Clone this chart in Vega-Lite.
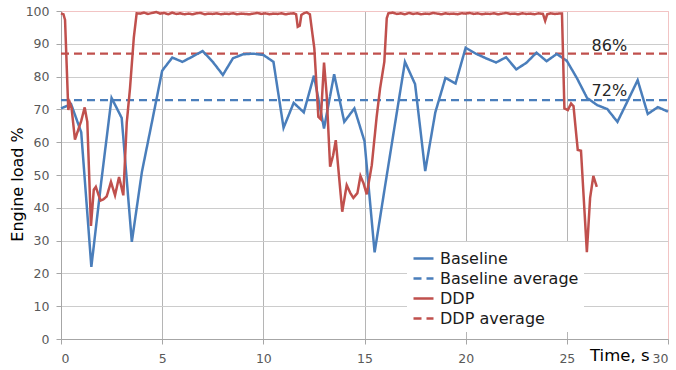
{
  "$schema": "https://vega.github.io/schema/vega-lite/v6.json",
  "width": 607,
  "height": 328,
  "autosize": "none",
  "padding": {"left": 61, "top": 11, "right": 8, "bottom": 31},
  "background": "white",
  "config": {
    "view": {"stroke": "#f2c4c4", "strokeWidth": 1},
    "font": "DejaVu Sans",
    "axis": {
      "gridWidth": 1,
      "domainColor": "#a6a6a6",
      "tickColor": "#a6a6a6",
      "tickSize": 5,
      "labelFont": "DejaVu Sans",
      "labelFontSize": 12.5,
      "labelColor": "#595959",
      "labelOverlap": false,
      "titleFont": "DejaVu Sans",
      "titleFontWeight": "normal",
      "titleColor": "#000000"
    }
  },
  "datasets": {
    "avg": [
      {"t": 0, "v": 72.8, "s": "Baseline average"},
      {"t": 30, "v": 72.8, "s": "Baseline average"},
      {"t": 0, "v": 87.0, "s": "DDP average"},
      {"t": 30, "v": 87.0, "s": "DDP average"}
    ],
    "main": [
      {"t": 0, "v": 70.3, "s": "Baseline"},
      {"t": 0.5, "v": 71.6, "s": "Baseline"},
      {"t": 1.0, "v": 63.0, "s": "Baseline"},
      {"t": 1.5, "v": 22.0, "s": "Baseline"},
      {"t": 2.0, "v": 48.5, "s": "Baseline"},
      {"t": 2.5, "v": 73.5, "s": "Baseline"},
      {"t": 3.0, "v": 67.4, "s": "Baseline"},
      {"t": 3.5, "v": 29.6, "s": "Baseline"},
      {"t": 4.0, "v": 51.0, "s": "Baseline"},
      {"t": 4.5, "v": 66.3, "s": "Baseline"},
      {"t": 5.0, "v": 81.8, "s": "Baseline"},
      {"t": 5.5, "v": 85.8, "s": "Baseline"},
      {"t": 6.0, "v": 84.5, "s": "Baseline"},
      {"t": 6.5, "v": 86.1, "s": "Baseline"},
      {"t": 7.0, "v": 87.8, "s": "Baseline"},
      {"t": 7.5, "v": 84.5, "s": "Baseline"},
      {"t": 8.0, "v": 80.5, "s": "Baseline"},
      {"t": 8.5, "v": 85.6, "s": "Baseline"},
      {"t": 9.0, "v": 86.8, "s": "Baseline"},
      {"t": 9.5, "v": 87.0, "s": "Baseline"},
      {"t": 10.0, "v": 86.6, "s": "Baseline"},
      {"t": 10.5, "v": 84.5, "s": "Baseline"},
      {"t": 11.0, "v": 64.4, "s": "Baseline"},
      {"t": 11.5, "v": 72.0, "s": "Baseline"},
      {"t": 12.0, "v": 69.1, "s": "Baseline"},
      {"t": 12.5, "v": 80.3, "s": "Baseline"},
      {"t": 13.0, "v": 64.2, "s": "Baseline"},
      {"t": 13.5, "v": 80.7, "s": "Baseline"},
      {"t": 14.0, "v": 66.2, "s": "Baseline"},
      {"t": 14.5, "v": 70.3, "s": "Baseline"},
      {"t": 15.0, "v": 60.3, "s": "Baseline"},
      {"t": 15.5, "v": 26.4, "s": "Baseline"},
      {"t": 16.0, "v": 46.0, "s": "Baseline"},
      {"t": 16.5, "v": 65.3, "s": "Baseline"},
      {"t": 17.0, "v": 84.5, "s": "Baseline"},
      {"t": 17.5, "v": 77.7, "s": "Baseline"},
      {"t": 18.0, "v": 51.2, "s": "Baseline"},
      {"t": 18.5, "v": 69.1, "s": "Baseline"},
      {"t": 19.0, "v": 79.6, "s": "Baseline"},
      {"t": 19.5, "v": 77.9, "s": "Baseline"},
      {"t": 20.0, "v": 88.8, "s": "Baseline"},
      {"t": 20.5, "v": 87.0, "s": "Baseline"},
      {"t": 21.0, "v": 85.6, "s": "Baseline"},
      {"t": 21.5, "v": 84.3, "s": "Baseline"},
      {"t": 22.0, "v": 85.9, "s": "Baseline"},
      {"t": 22.5, "v": 82.2, "s": "Baseline"},
      {"t": 23.0, "v": 84.2, "s": "Baseline"},
      {"t": 23.5, "v": 87.3, "s": "Baseline"},
      {"t": 24.0, "v": 84.7, "s": "Baseline"},
      {"t": 24.5, "v": 86.9, "s": "Baseline"},
      {"t": 25.0, "v": 84.8, "s": "Baseline"},
      {"t": 25.5, "v": 79.5, "s": "Baseline"},
      {"t": 26.0, "v": 73.5, "s": "Baseline"},
      {"t": 26.5, "v": 71.3, "s": "Baseline"},
      {"t": 27.0, "v": 70.1, "s": "Baseline"},
      {"t": 27.5, "v": 66.2, "s": "Baseline"},
      {"t": 28.0, "v": 72.5, "s": "Baseline"},
      {"t": 28.5, "v": 78.9, "s": "Baseline"},
      {"t": 29.0, "v": 68.6, "s": "Baseline"},
      {"t": 29.5, "v": 70.7, "s": "Baseline"},
      {"t": 30.0, "v": 69.3, "s": "Baseline"},

      {"t": 0, "v": 99.3, "s": "DDP"},
      {"t": 0.12, "v": 99.0, "s": "DDP"},
      {"t": 0.2, "v": 97.3, "s": "DDP"},
      {"t": 0.36, "v": 69.8, "s": "DDP"},
      {"t": 0.44, "v": 72.0, "s": "DDP"},
      {"t": 0.52, "v": 70.5, "s": "DDP"},
      {"t": 0.69, "v": 60.8, "s": "DDP"},
      {"t": 1.0, "v": 66.5, "s": "DDP"},
      {"t": 1.17, "v": 70.6, "s": "DDP"},
      {"t": 1.3, "v": 66.2, "s": "DDP"},
      {"t": 1.48, "v": 34.5, "s": "DDP"},
      {"t": 1.62, "v": 45.5, "s": "DDP"},
      {"t": 1.72, "v": 46.4, "s": "DDP"},
      {"t": 1.95, "v": 42.2, "s": "DDP"},
      {"t": 2.1, "v": 42.6, "s": "DDP"},
      {"t": 2.26, "v": 43.5, "s": "DDP"},
      {"t": 2.47, "v": 47.9, "s": "DDP"},
      {"t": 2.67, "v": 43.8, "s": "DDP"},
      {"t": 2.87, "v": 49.4, "s": "DDP"},
      {"t": 3.08, "v": 43.8, "s": "DDP"},
      {"t": 3.25, "v": 66.0, "s": "DDP"},
      {"t": 3.41, "v": 76.4, "s": "DDP"},
      {"t": 3.6, "v": 92.0, "s": "DDP"},
      {"t": 3.74, "v": 99.3, "s": "DDP"},
      {"t": 3.9, "v": 99.2, "s": "DDP"},
      {"t": 4.1, "v": 99.5, "s": "DDP"},
      {"t": 4.3, "v": 99.1, "s": "DDP"},
      {"t": 4.5, "v": 99.4, "s": "DDP"},
      {"t": 4.7, "v": 99.7, "s": "DDP"},
      {"t": 4.9, "v": 99.2, "s": "DDP"},
      {"t": 5.1, "v": 99.4, "s": "DDP"},
      {"t": 5.3, "v": 99.0, "s": "DDP"},
      {"t": 5.5, "v": 99.5, "s": "DDP"},
      {"t": 5.7, "v": 99.1, "s": "DDP"},
      {"t": 5.9, "v": 99.3, "s": "DDP"},
      {"t": 6.1, "v": 99.0, "s": "DDP"},
      {"t": 6.3, "v": 99.2, "s": "DDP"},
      {"t": 6.5, "v": 99.0, "s": "DDP"},
      {"t": 6.7, "v": 99.3, "s": "DDP"},
      {"t": 6.9, "v": 99.4, "s": "DDP"},
      {"t": 7.1, "v": 99.0, "s": "DDP"},
      {"t": 7.3, "v": 99.2, "s": "DDP"},
      {"t": 7.5, "v": 99.1, "s": "DDP"},
      {"t": 7.7, "v": 99.3, "s": "DDP"},
      {"t": 7.9, "v": 99.0, "s": "DDP"},
      {"t": 8.1, "v": 99.2, "s": "DDP"},
      {"t": 8.3, "v": 99.1, "s": "DDP"},
      {"t": 8.5, "v": 99.3, "s": "DDP"},
      {"t": 8.7, "v": 99.0, "s": "DDP"},
      {"t": 8.9, "v": 99.2, "s": "DDP"},
      {"t": 9.1, "v": 99.1, "s": "DDP"},
      {"t": 9.3, "v": 99.0, "s": "DDP"},
      {"t": 9.5, "v": 99.2, "s": "DDP"},
      {"t": 9.7, "v": 99.4, "s": "DDP"},
      {"t": 9.9, "v": 99.1, "s": "DDP"},
      {"t": 10.1, "v": 99.3, "s": "DDP"},
      {"t": 10.3, "v": 99.0, "s": "DDP"},
      {"t": 10.5, "v": 99.2, "s": "DDP"},
      {"t": 10.7, "v": 99.1, "s": "DDP"},
      {"t": 10.9, "v": 99.3, "s": "DDP"},
      {"t": 11.1, "v": 99.0, "s": "DDP"},
      {"t": 11.3, "v": 99.2, "s": "DDP"},
      {"t": 11.5, "v": 99.3, "s": "DDP"},
      {"t": 11.62, "v": 99.0, "s": "DDP"},
      {"t": 11.7, "v": 95.2, "s": "DDP"},
      {"t": 11.8, "v": 95.5, "s": "DDP"},
      {"t": 11.88, "v": 98.8, "s": "DDP"},
      {"t": 12.0, "v": 99.3, "s": "DDP"},
      {"t": 12.14, "v": 99.6, "s": "DDP"},
      {"t": 12.3, "v": 99.0, "s": "DDP"},
      {"t": 12.52, "v": 88.6, "s": "DDP"},
      {"t": 12.72, "v": 67.7, "s": "DDP"},
      {"t": 12.84, "v": 67.0, "s": "DDP"},
      {"t": 13.0, "v": 84.3, "s": "DDP"},
      {"t": 13.13, "v": 74.4, "s": "DDP"},
      {"t": 13.3, "v": 52.5, "s": "DDP"},
      {"t": 13.45, "v": 56.0, "s": "DDP"},
      {"t": 13.58, "v": 60.6, "s": "DDP"},
      {"t": 13.9, "v": 38.8, "s": "DDP"},
      {"t": 14.12, "v": 46.9, "s": "DDP"},
      {"t": 14.3, "v": 44.5, "s": "DDP"},
      {"t": 14.45, "v": 43.0, "s": "DDP"},
      {"t": 14.65, "v": 44.5, "s": "DDP"},
      {"t": 14.8, "v": 49.7, "s": "DDP"},
      {"t": 14.95, "v": 47.5, "s": "DDP"},
      {"t": 15.11, "v": 44.1, "s": "DDP"},
      {"t": 15.36, "v": 53.0, "s": "DDP"},
      {"t": 15.6, "v": 67.7, "s": "DDP"},
      {"t": 15.77, "v": 76.4, "s": "DDP"},
      {"t": 15.98, "v": 84.5, "s": "DDP"},
      {"t": 16.1, "v": 97.8, "s": "DDP"},
      {"t": 16.18, "v": 99.3, "s": "DDP"},
      {"t": 16.4, "v": 99.5, "s": "DDP"},
      {"t": 16.6, "v": 99.1, "s": "DDP"},
      {"t": 16.8, "v": 99.3, "s": "DDP"},
      {"t": 17.0, "v": 99.0, "s": "DDP"},
      {"t": 17.2, "v": 99.4, "s": "DDP"},
      {"t": 17.4, "v": 99.1, "s": "DDP"},
      {"t": 17.6, "v": 99.3, "s": "DDP"},
      {"t": 17.8, "v": 99.0, "s": "DDP"},
      {"t": 18.0, "v": 99.2, "s": "DDP"},
      {"t": 18.2, "v": 99.1, "s": "DDP"},
      {"t": 18.4, "v": 99.4, "s": "DDP"},
      {"t": 18.6, "v": 99.2, "s": "DDP"},
      {"t": 18.8, "v": 99.0, "s": "DDP"},
      {"t": 19.0, "v": 99.3, "s": "DDP"},
      {"t": 19.2, "v": 99.1, "s": "DDP"},
      {"t": 19.4, "v": 99.2, "s": "DDP"},
      {"t": 19.6, "v": 99.0, "s": "DDP"},
      {"t": 19.8, "v": 99.3, "s": "DDP"},
      {"t": 20.0, "v": 99.2, "s": "DDP"},
      {"t": 20.2, "v": 99.4, "s": "DDP"},
      {"t": 20.4, "v": 99.1, "s": "DDP"},
      {"t": 20.6, "v": 99.3, "s": "DDP"},
      {"t": 20.8, "v": 99.0, "s": "DDP"},
      {"t": 21.0, "v": 99.2, "s": "DDP"},
      {"t": 21.2, "v": 99.1, "s": "DDP"},
      {"t": 21.4, "v": 99.3, "s": "DDP"},
      {"t": 21.6, "v": 99.0, "s": "DDP"},
      {"t": 21.8, "v": 99.2, "s": "DDP"},
      {"t": 22.0, "v": 99.4, "s": "DDP"},
      {"t": 22.2, "v": 99.1, "s": "DDP"},
      {"t": 22.4, "v": 99.2, "s": "DDP"},
      {"t": 22.6, "v": 99.0, "s": "DDP"},
      {"t": 22.8, "v": 99.3, "s": "DDP"},
      {"t": 23.0, "v": 99.1, "s": "DDP"},
      {"t": 23.2, "v": 99.2, "s": "DDP"},
      {"t": 23.4, "v": 99.0, "s": "DDP"},
      {"t": 23.6, "v": 99.3, "s": "DDP"},
      {"t": 23.82, "v": 99.1, "s": "DDP"},
      {"t": 23.93, "v": 97.0, "s": "DDP"},
      {"t": 24.03, "v": 99.0, "s": "DDP"},
      {"t": 24.2, "v": 99.3, "s": "DDP"},
      {"t": 24.4, "v": 99.1, "s": "DDP"},
      {"t": 24.6, "v": 99.2, "s": "DDP"},
      {"t": 24.76, "v": 99.2, "s": "DDP"},
      {"t": 24.88, "v": 70.3, "s": "DDP"},
      {"t": 25.05, "v": 69.8, "s": "DDP"},
      {"t": 25.21, "v": 71.8, "s": "DDP"},
      {"t": 25.33, "v": 71.0, "s": "DDP"},
      {"t": 25.54, "v": 57.6, "s": "DDP"},
      {"t": 25.7, "v": 57.4, "s": "DDP"},
      {"t": 25.99, "v": 26.5, "s": "DDP"},
      {"t": 26.15, "v": 43.0, "s": "DDP"},
      {"t": 26.31, "v": 49.7, "s": "DDP"},
      {"t": 26.48, "v": 46.4, "s": "DDP"}
    ],
    "labels": [
      {"t": 27.1, "v": 89.4, "txt": "86%"},
      {"t": 27.1, "v": 75.6, "txt": "72%"}
    ]
  },
  "encoding": {
    "x": {
      "field": "t", "type": "quantitative",
      "scale": {"domain": [0, 30], "nice": false},
      "axis": {
        "values": [0, 5, 10, 15, 20, 25, 30],
        "gridColor": {"condition": {"test": "datum.value === 30", "value": "#f2c4c4"}, "value": "#b5b5b5"},
        "title": "Time, s",
        "titleFontSize": 16.5,
        "titleAlign": "right",
        "titleBaseline": "middle",
        "titleX": 588,
        "titleY": 16,
        "labelPadding": 8
      }
    },
    "y": {
      "field": "v", "type": "quantitative",
      "scale": {"domain": [0, 100], "nice": false},
      "axis": {
        "values": [0, 10, 20, 30, 40, 50, 60, 70, 80, 90, 100],
        "gridColor": {"condition": {"test": "datum.value === 100", "value": "#f2c4c4"}, "value": "#cccccc"},
        "title": "Engine load %",
        "titleFontSize": 16,
        "titleX": -44,
        "titleY": 173,
        "titleAngle": -90,
        "titleAlign": "center",
        "titleBaseline": "middle",
        "labelPadding": 7
      }
    }
  },
  "layer": [
    {
      "data": {"name": "avg"},
      "mark": {"type": "line", "strokeWidth": 2.2},
      "encoding": {
        "color": {
          "field": "s", "type": "nominal",
          "scale": {
            "domain": ["Baseline", "Baseline average", "DDP", "DDP average"],
            "range": ["#4a7ebb", "#4a7ebb", "#c0504d", "#c0504d"]
          },
          "legend": {
            "title": null,
            "orient": "none",
            "legendX": 346,
            "legendY": 231,
            "fillColor": "white",
            "padding": 5,
            "labelFont": "DejaVu Sans",
            "labelFontSize": 16,
            "labelColor": "#1a1a1a",
            "symbolType": "stroke",
            "symbolSize": 400,
            "symbolStrokeWidth": 2.5,
            "rowPadding": 0,
            "labelOffset": 5
          }
        },
        "strokeDash": {
          "field": "s", "type": "nominal",
          "scale": {
            "domain": ["Baseline", "Baseline average", "DDP", "DDP average"],
            "range": [[1, 0], [8, 5], [1, 0], [8, 5]]
          },
          "legend": {
            "title": null,
            "orient": "none",
            "legendX": 346,
            "legendY": 231,
            "fillColor": "white",
            "padding": 5,
            "labelFont": "DejaVu Sans",
            "labelFontSize": 16,
            "labelColor": "#1a1a1a",
            "symbolType": "stroke",
            "symbolSize": 400,
            "symbolStrokeWidth": 2.5,
            "rowPadding": 0,
            "labelOffset": 5
          }
        }
      }
    },
    {
      "data": {"name": "main"},
      "mark": {"type": "line", "strokeWidth": 2.5},
      "encoding": {
        "color": {"field": "s", "type": "nominal"},
        "strokeDash": {"field": "s", "type": "nominal"}
      }
    },
    {
      "data": {"name": "labels"},
      "mark": {"type": "text", "fontSize": 16, "font": "DejaVu Sans", "color": "#262626"},
      "encoding": {
        "text": {"field": "txt"}
      }
    }
  ]
}
